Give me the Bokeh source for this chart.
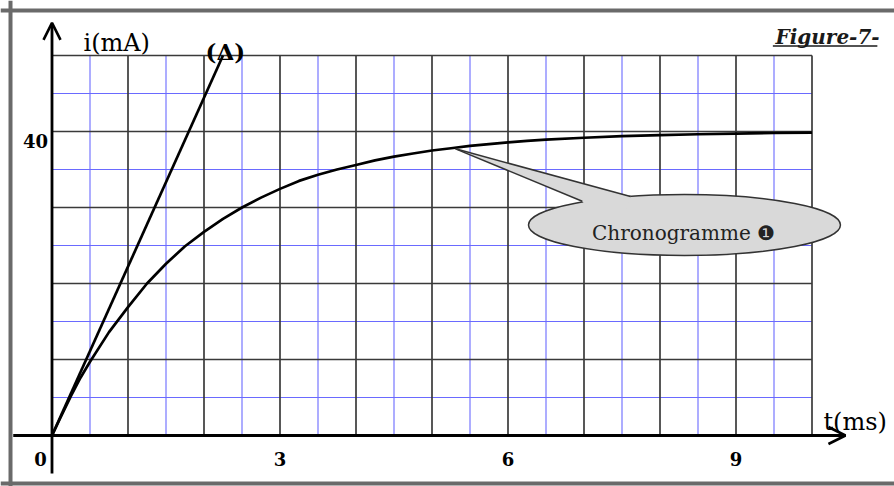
from bokeh.plotting import figure
from bokeh.models import Range1d, Arrow, OpenHead, Span
from bokeh.core.properties import value
from bokeh.embed import file_html
from bokeh.resources import INLINE

# ---- data ----
t_ms = [0, 0.1, 0.25, 0.375, 0.5, 0.75, 1.0, 1.25, 1.5, 1.75, 2.0, 2.25, 2.5, 2.75, 3.0,
        3.25, 3.5, 3.75, 4.0, 4.25, 4.5, 4.75, 5.0, 5.25, 5.5, 5.75, 6.0, 6.25, 6.5, 7.0,
        7.5, 8.0, 8.5, 9.0, 9.5, 10.0]
i_mA = [0, 2.1, 5.2, 7.6, 9.7, 13.6, 16.9, 20.0, 22.6, 24.9, 26.8, 28.5, 30.0, 31.3, 32.45,
        33.5, 34.3, 35.0, 35.6, 36.2, 36.7, 37.1, 37.5, 37.8, 38.1, 38.35, 38.57, 38.76, 38.92, 39.18,
        39.38, 39.53, 39.64, 39.73, 39.80, 39.85]
delta_t = [0, 2.25]
delta_i = [0, 50]
x_tick_vals = [3, 6, 9]
x_tick_labels = ["3", "6", "9"]
y_tick_vals = [40]
y_tick_labels = ["40"]
major_t = [1, 2, 3, 4, 5, 6, 7, 8, 9, 10]
minor_t = [0.5, 1.5, 2.5, 3.5, 4.5, 5.5, 6.5, 7.5, 8.5, 9.5]
major_i = [10, 20, 30, 40, 50]
minor_i = [5, 15, 25, 35, 45]
T_MAX = 10
I_MAX = 50

# pixel scale: 76 px per ms, 7.6 px per mA; origin at pixel (51.5, 435)
W, H = 894, 486
X0 = -51.5 / 76
X1 = (W - 51.5) / 76
Y1 = 435 / 7.6
Y0 = -(H - 435) / 7.6

p = figure(width=W, height=H, output_backend="svg", toolbar_location=None,
           x_range=Range1d(X0, X1), y_range=Range1d(Y0, Y1),
           x_axis_type=None, y_axis_type=None, min_border=0)
p.grid.visible = False
p.outline_line_color = None
p.background_fill_color = "white"
p.border_fill_color = "white"

# grid
BLUE = "#6a6aff"
GRID = "#3a3a3a"
p.segment(x0=minor_t, y0=[0] * len(minor_t), x1=minor_t, y1=[I_MAX] * len(minor_t),
          line_color=BLUE, line_width=1.1)
p.segment(x0=[0] * len(minor_i), y0=minor_i, x1=[T_MAX] * len(minor_i), y1=minor_i,
          line_color=BLUE, line_width=1.1)
p.segment(x0=major_t, y0=[0] * len(major_t), x1=major_t, y1=[I_MAX] * len(major_t),
          line_color=GRID, line_width=1.7)
p.segment(x0=[0] * len(major_i), y0=major_i, x1=[T_MAX] * len(major_i), y1=major_i,
          line_color=GRID, line_width=1.7)

# frame border (top, left, bottom)
for loc, dim in [(55.92, "width"), (-6.32, "width"), (-0.546, "height")]:
    p.add_layout(Span(location=loc, dimension=dim, line_color="#6a6a6a", line_width=4))

# axes with open arrow heads
p.add_layout(Arrow(end=OpenHead(size=17, line_width=2.6, line_color="black"),
                   x_start=-0.51, y_start=0, x_end=10.44, y_end=0,
                   line_width=2.8, line_color="black"))
p.add_layout(Arrow(end=OpenHead(size=17, line_width=2.6, line_color="black"),
                   x_start=0, y_start=-5.0, x_end=0, y_end=54.3,
                   line_width=2.8, line_color="black"))

# curves
p.line(delta_t, delta_i, line_color="black", line_width=2.7)
p.line(t_ms, i_mA, line_color="black", line_width=2.7, line_join="round")

# callout bubble
p.ellipse(x=[8.322], y=[27.70], width=4.105, height=8.03,
          fill_color="#d9d9d9", line_color="#333333", line_width=1.5)
tail_x = [5.31, 6.977, 7.08, 7.55, 7.612]
tail_y = [37.72, 30.82, 29.6, 29.6, 31.45]
p.patch(tail_x, tail_y, fill_color="#d9d9d9", line_color=None)
p.segment(x0=[5.31, 5.31], y0=[37.72, 37.72], x1=[6.977, 7.612], y1=[30.82, 31.45],
          line_color="#333333", line_width=1.5)
p.text(x=[8.31], y=[26.6], text=["Chronogramme \u2776"], text_font=value("DejaVu Serif"),
       text_font_size="20px", text_align="center", text_baseline="alphabetic",
       text_color="#222222")

# labels
p.text(x=[0.414], y=[51.7], text=["i(mA)"], text_font=value("DejaVu Serif"),
       text_font_size="24px", text_align="left", text_baseline="alphabetic", text_color="black")
p.text(x=[10.15], y=[1.75], text=["t(ms)"], text_font=value("DejaVu Serif"),
       text_font_size="24px", text_align="left", text_baseline="alphabetic", text_color="black")
p.text(x=[2.02], y=[50.5], text=["(\u0394)"], text_font=value("DejaVu Serif"),
       text_font_size="23px", text_font_style="bold", text_align="left",
       text_baseline="alphabetic", text_color="black")
p.text(x=[9.52], y=[52.4], text=["Figure-7-"], text_font=value("DejaVu Serif"),
       text_font_size="20px", text_font_style="bold italic", text_align="left",
       text_baseline="alphabetic", text_color="#1a1a1a")
p.segment(x0=[9.485], y0=[51.25], x1=[10.86], y1=[51.25], line_color="#1a1a1a", line_width=1.5)

# tick labels
p.text(x=x_tick_vals + [-0.151], y=[-3.03] * 4, text=x_tick_labels + ["0"],
       text_font=value("DejaVu Serif"), text_font_size="18px", text_font_style="bold",
       text_align="center", text_baseline="alphabetic", text_color="black")
p.text(x=[-0.217], y=[y - 1.2 for y in y_tick_vals], text=y_tick_labels,
       text_font=value("DejaVu Serif"), text_font_size="18px", text_font_style="bold",
       text_align="center", text_baseline="alphabetic", text_color="black")

open("out.html", "w").write(file_html(p, INLINE))
